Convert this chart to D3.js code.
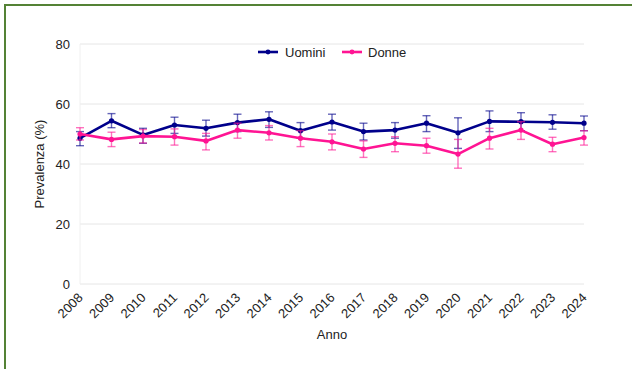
<!DOCTYPE html>
<html><head><meta charset="utf-8">
<script src="https://cdn.jsdelivr.net/npm/d3@7"></script>
<style>
html,body{margin:0;padding:0;background:#fff;overflow:hidden}
svg{display:block;font-family:"Liberation Sans",Arial,sans-serif}
</style></head>
<body>
<svg id="c" width="632" height="369"></svg>
<script>
const years = ["2008","2009","2010","2011","2012","2013","2014","2015","2016","2017","2018","2019","2020","2021","2022","2023","2024"];
const uomini    = [48.6,54.4,49.7,53.0,51.9,53.8,54.9,51.1,54.0,50.8,51.3,53.6,50.4,54.2,54.1,53.9,53.6];
const uominiLow = [46.1,52.1,46.9,50.2,49.3,50.8,52.2,48.6,51.3,48.0,48.6,50.8,45.2,50.8,51.1,51.6,51.1];
const uominiHigh= [50.8,56.8,51.9,55.6,54.6,56.6,57.4,53.8,56.6,53.6,53.8,56.1,55.4,57.7,57.1,56.4,56.0];
const donne     = [50.0,48.2,49.3,49.1,47.7,51.3,50.4,48.6,47.4,45.0,46.9,46.1,43.3,48.6,51.3,46.6,48.8];
const donneLow  = [48.0,45.8,47.0,46.3,44.7,48.6,48.0,45.8,44.7,42.2,44.1,43.6,38.6,45.0,48.2,44.1,46.3];
const donneHigh = [52.1,50.6,51.5,51.7,50.2,53.6,52.8,51.1,50.0,47.7,49.1,48.6,48.2,51.9,54.1,48.9,51.1];
const yTicks = [0,20,40,60,80];
const seriesNames = ["Uomini","Donne"];
const seriesColors = ["#00008b","#ff1493"];

const svg = d3.select("#c");
// border
svg.append("rect").attr("x",5).attr("y",5).attr("width",700).attr("height",400)
  .attr("fill","none").attr("stroke","#548235").attr("stroke-width",2);

const x = d3.scalePoint().domain(years).range([80,584]);
const y = d3.scaleLinear().domain([0,80]).range([284,44]);

// grid
svg.append("g").selectAll("line").data(yTicks).join("line")
  .attr("x1",80).attr("x2",584).attr("y1",d=>y(d)).attr("y2",d=>y(d))
  .attr("stroke","#e6e6e6").attr("stroke-width",1);
svg.append("line").attr("x1",80).attr("x2",80).attr("y1",44).attr("y2",284)
  .attr("stroke","#f0f0f0");

// y axis
const ya = svg.append("g").attr("transform","translate(80,0)")
  .call(d3.axisLeft(y).tickValues(yTicks).tickSize(0).tickPadding(10));
ya.select(".domain").remove();
ya.selectAll("text").attr("font-size",13).attr("fill","#222").attr("font-family","Liberation Sans, Arial");

// x axis
const xa = svg.append("g").attr("transform","translate(0,284)")
  .call(d3.axisBottom(x).tickSize(0));
xa.select(".domain").remove();
xa.selectAll("text").attr("font-size",13).attr("fill","#222").attr("font-family","Liberation Sans, Arial")
  .attr("text-anchor","end").attr("dy",null).attr("y",0)
  .attr("transform","translate(3,14.5) rotate(-45)");

// axis titles
svg.append("text").attr("x",332).attr("y",339).attr("text-anchor","middle")
  .attr("font-size",13).attr("fill","#222").text("Anno");
svg.append("text").attr("transform","translate(44,164) rotate(-90)").attr("text-anchor","middle")
  .attr("font-size",13).attr("fill","#222").text("Prevalenza (%)");

const data = [
  {name:seriesNames[0], color:seriesColors[0], v:uomini, lo:uominiLow, hi:uominiHigh},
  {name:seriesNames[1], color:seriesColors[1], v:donne, lo:donneLow, hi:donneHigh}
];
const line = d3.line().x((d,i)=>x(years[i])).y(d=>y(d));

data.forEach(s=>{
  const g = svg.append("g");
  g.append("path").datum(s.v).attr("d",line).attr("fill","none")
    .attr("stroke",s.color).attr("stroke-width",2.6).attr("stroke-linejoin","round");
  const eb = g.append("g").attr("stroke",s.color).attr("stroke-opacity",0.6).attr("stroke-width",1.4);
  years.forEach((yr,i)=>{
    const cx = x(yr);
    eb.append("line").attr("x1",cx).attr("x2",cx).attr("y1",y(s.lo[i])).attr("y2",y(s.hi[i]));
    eb.append("line").attr("x1",cx-4).attr("x2",cx+4).attr("y1",y(s.lo[i])).attr("y2",y(s.lo[i]));
    eb.append("line").attr("x1",cx-4).attr("x2",cx+4).attr("y1",y(s.hi[i])).attr("y2",y(s.hi[i]));
  });
  g.selectAll("circle").data(s.v).join("circle")
    .attr("cx",(d,i)=>x(years[i])).attr("cy",d=>y(d)).attr("r",2.6).attr("fill",s.color);
});

// legend
const leg = [{x:258,tx:285},{x:342,tx:368}];
data.forEach((s,i)=>{
  const L = leg[i];
  svg.append("line").attr("x1",L.x).attr("x2",L.x+20).attr("y1",52).attr("y2",52)
    .attr("stroke",s.color).attr("stroke-width",2.6);
  svg.append("circle").attr("cx",L.x+10).attr("cy",52).attr("r",2.4).attr("fill",s.color);
  svg.append("text").attr("x",L.tx).attr("y",56.5).attr("font-size",13).attr("fill","#222").text(s.name);
});
</script>
</body></html>
